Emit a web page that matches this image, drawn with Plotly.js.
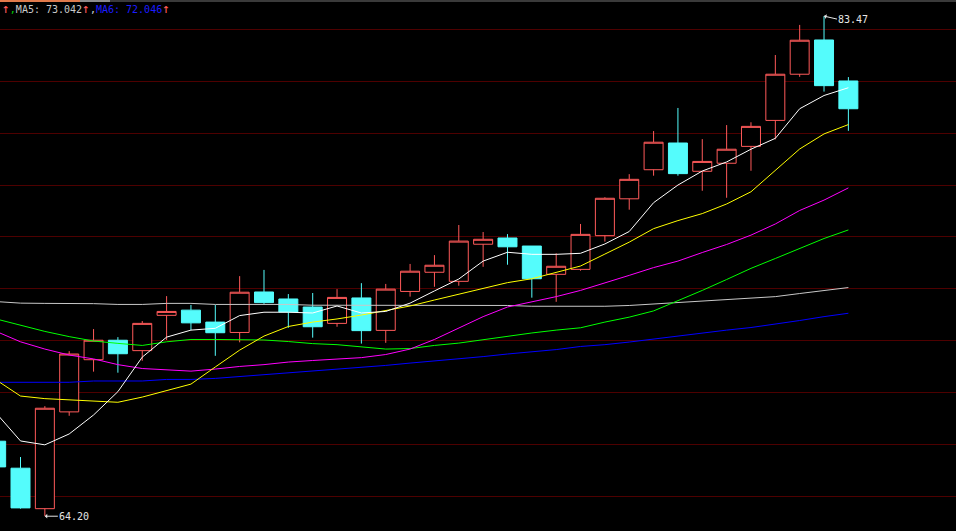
<!DOCTYPE html>
<html>
<head>
<meta charset="utf-8">
<script src="https://cdn.plot.ly/plotly-3.0.1.min.js"></script>
<style>
html,body{margin:0;padding:0;background:#000;overflow:hidden}
#chart{width:956px;height:531px}
</style>
</head>
<body>
<div id="chart"></div>
<script>
// Trading-day index of each candle (first one is cut at the left edge)
const days = [0,1,2,3,4,5,6,7,8,9,10,11,12,13,14,15,16,17,18,19,20,21,22,23,24,25,26,27,28,29,30,31,32,33,34,35];

const openP  = [67.09,66.05,64.49,68.22,70.23,70.98,70.58,71.94,72.14,71.68,71.28,72.84,72.57,72.26,71.63,72.61,71.36,72.86,73.60,73.25,74.68,74.92,74.61,73.52,73.71,75.01,76.43,77.55,78.58,77.49,77.80,78.45,79.45,81.23,82.55,80.97];
const highP  = [67.30,66.48,68.44,70.56,71.41,71.10,71.72,72.68,72.34,72.34,73.45,73.69,72.76,72.80,72.95,73.18,73.15,73.92,74.26,75.42,75.15,75.07,74.61,74.33,75.46,76.49,77.38,79.04,79.93,78.73,79.27,79.38,81.97,83.13,83.47,81.12];
const lowP   = [65.95,64.49,64.20,68.07,69.77,69.73,70.19,70.99,71.37,70.38,70.90,72.38,71.46,71.08,71.50,70.85,70.88,72.66,73.04,73.08,73.81,73.89,72.62,72.46,73.66,74.78,76.01,77.32,77.32,76.74,76.47,77.51,78.72,81.13,80.56,79.05];
const closeP = [66.10,64.52,68.36,70.45,70.98,70.46,71.63,72.09,71.65,71.27,72.83,72.43,72.07,71.50,72.63,71.35,72.95,73.64,73.87,74.80,74.87,74.58,73.35,73.83,75.06,76.45,77.18,78.61,77.40,77.87,78.34,79.22,81.23,82.54,80.79,79.90];

// Moving-average lines
const maWhite   = [68.17,67.10,66.95,67.37,68.10,69.00,70.33,71.10,71.37,71.44,71.93,72.06,72.06,72.03,72.30,72.03,72.09,72.41,72.88,73.34,74.03,74.37,74.29,74.29,74.33,74.69,75.17,76.28,76.96,77.50,77.85,78.34,78.76,79.90,80.41,80.71];
const maYellow  = [69.45,68.83,68.73,68.69,68.64,68.59,68.79,69.04,69.29,69.95,70.60,71.14,71.51,71.68,71.80,71.95,72.12,72.30,72.53,72.76,72.98,73.20,73.35,73.59,73.84,74.30,74.76,75.28,75.59,75.86,76.23,76.70,77.54,78.35,78.93,79.29];
const maMagenta = [71.32,70.92,70.64,70.41,70.26,70.04,69.89,69.83,69.79,69.87,69.97,70.04,70.14,70.20,70.26,70.31,70.43,70.64,71.01,71.45,71.89,72.26,72.47,72.66,72.90,73.18,73.48,73.78,74.03,74.36,74.67,75.03,75.46,75.98,76.38,76.85];
const maGreen   = [71.80,71.57,71.32,71.12,70.95,70.86,70.78,70.92,71.01,71.01,71.01,70.99,70.93,70.85,70.81,70.72,70.64,70.66,70.78,70.87,71.00,71.14,71.26,71.37,71.46,71.68,71.87,72.11,72.49,72.90,73.32,73.75,74.13,74.51,74.90,75.23];
const maGray    = [72.47,72.41,72.40,72.40,72.39,72.36,72.36,72.40,72.40,72.36,72.36,72.36,72.36,72.33,72.33,72.33,72.33,72.33,72.33,72.33,72.33,72.32,72.29,72.29,72.28,72.29,72.32,72.38,72.43,72.48,72.54,72.61,72.66,72.78,72.90,73.01];
const maBlue    = [69.36,69.36,69.36,69.36,69.41,69.41,69.41,69.47,69.47,69.51,69.58,69.65,69.72,69.80,69.87,69.95,70.01,70.10,70.18,70.27,70.35,70.45,70.53,70.62,70.74,70.81,70.91,71.03,71.14,71.26,71.37,71.47,71.60,71.74,71.89,72.02];

const UP = '#ff5a5a', DOWN = '#54fcfc';

const traces = [{
  type: 'candlestick',
  x: days, open: openP, high: highP, low: lowP, close: closeP,
  increasing: {line: {color: UP, width: 1}, fillcolor: '#000000'},
  decreasing: {line: {color: DOWN, width: 1}, fillcolor: DOWN},
  whiskerwidth: 0,
  hoverinfo: 'skip'
}];

const lines = [
  [maGray, '#c8c8c8'],
  [maBlue, '#0000ff'],
  [maGreen, '#00ff00'],
  [maMagenta, '#ff00ff'],
  [maYellow, '#ffff00'],
  [maWhite, '#ffffff']
];
lines.forEach(([vals, col]) => {
  traces.push({type: 'scatter', mode: 'lines', x: days, y: vals,
    line: {color: col, width: 1}, hoverinfo: 'skip'});
});

// extreme labels derived from data
let hiIdx = 0, loIdx = 0;
for (let i = 1; i < days.length; i++) {
  if (highP[i] > highP[hiIdx]) hiIdx = i;
  if (lowP[i] < lowP[loIdx]) loIdx = i;
}
const mono = {family: 'DejaVu Sans Mono, monospace', size: 10, color: '#e6e6e6'};

const arrowUp = '<span style="color:#ff5a5a;font-size:13px">↑</span>';
const header = arrowUp + '<span style="color:#00d000">,</span>' +
  '<span style="color:#c8c8c8">MA5: 73.042</span>' + arrowUp +
  '<span style="color:#d0d0d0">,</span><span style="color:#1c1cff">MA6: 72.046</span>' + arrowUp;

const W = 956, H = 531;
const layout = {
  width: W, height: H,
  margin: {l: 0, r: 0, t: 0, b: 0, pad: 0},
  paper_bgcolor: '#000000', plot_bgcolor: '#000000',
  showlegend: false, hovermode: false,
  boxgap: 0.22, boxgroupgap: 0,
  xaxis: {range: [0.158, 39.42], showgrid: false, zeroline: false, showticklabels: false,
          showline: false, ticks: '', rangeslider: {visible: false}, fixedrange: true},
  yaxis: {range: [63.63, 84.09], tick0: 64.96, dtick: 2, showgrid: true, gridcolor: '#4e0000',
          gridwidth: 1, zeroline: false, showticklabels: false, ticks: '', showline: false, fixedrange: true},
  shapes: [
    {type: 'rect', xref: 'paper', yref: 'paper', x0: 0, x1: 1, y0: 1 - 2 / H, y1: 1, fillcolor: '#3a3a3a', line: {width: 0}},
    {type: 'rect', xref: 'paper', yref: 'paper', x0: 0, x1: 80 / W, y0: 1 - 2 / H, y1: 1, fillcolor: '#e07a4c', line: {width: 0}},
    {type: 'rect', xref: 'paper', yref: 'paper', x0: 80 / W, x1: 110 / W, y0: 1 - 2 / H, y1: 1, fillcolor: '#8c8c8c', line: {width: 0}}
  ],
  annotations: [
    {xref: 'paper', yref: 'paper', x: 0, y: 1 - 9 / H, xanchor: 'left', yanchor: 'middle',
     showarrow: false, text: header, font: {family: 'DejaVu Sans Mono, monospace', size: 10, color: '#c0c0c0'}},
    {x: days[loIdx], y: lowP[loIdx], text: lowP[loIdx].toFixed(2), showarrow: true,
     ax: 13, ay: 0, xanchor: 'left', yanchor: 'middle', arrowhead: 1, arrowsize: 0.8, arrowwidth: 1,
     arrowcolor: '#e6e6e6', font: mono, borderpad: 0},
    {x: days[hiIdx], y: highP[hiIdx], text: highP[hiIdx].toFixed(2), showarrow: true,
     ax: 13, ay: 3, xanchor: 'left', yanchor: 'middle', arrowhead: 1, arrowsize: 0.8, arrowwidth: 1,
     arrowcolor: '#e6e6e6', font: mono, borderpad: 0}
  ]
};

Plotly.newPlot('chart', traces, layout, {staticPlot: true, displayModeBar: false});
</script>
</body>
</html>
